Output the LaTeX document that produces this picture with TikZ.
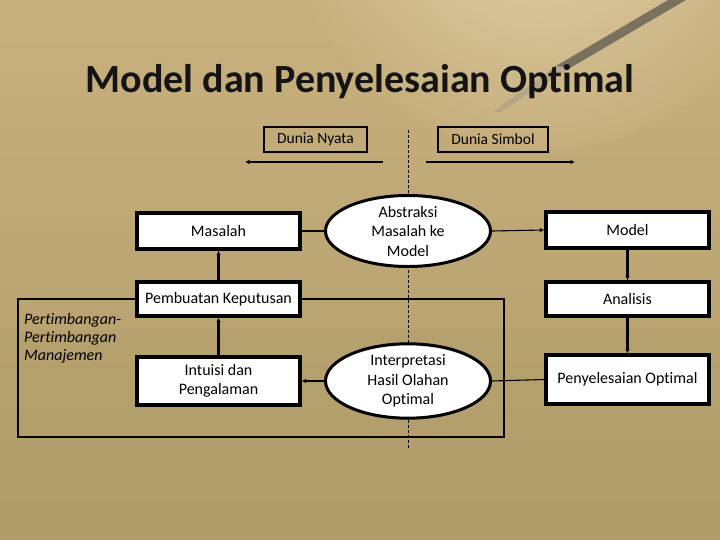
\documentclass[tikz,border=0pt]{standalone}
\usepackage{fontspec}
\setmainfont{Carlito}[Ligatures=NoCommon]
\usetikzlibrary{shapes.geometric,arrows.meta,shadings}
\definecolor{bgbot}{RGB}{176,157,106}
\definecolor{bgtop}{RGB}{200,176,126}
\definecolor{paper}{RGB}{236,222,186}
\begin{document}
\begin{tikzpicture}[x=1pt,y=-1pt,
  box/.style={draw=black,line width=3.2pt,fill=white,minimum width=163pt,inner sep=2pt,align=center,font=\fontsize{16}{19.5}\selectfont},
  oval/.style={ellipse,draw=black,line width=3pt,fill=white,minimum width=165pt,inner sep=0pt,align=center,font=\fontsize{16}{19.5}\selectfont},
  lbl/.style={draw=black,line width=1.1pt,inner sep=0pt,font=\fontsize{15.5}{18}\selectfont},
  thin/.style={draw=black,line width=1.1pt},
  vert/.style={draw=black,line width=2.2pt},
  tip/.style={-{Latex[length=4.5pt,width=4.5pt]}}]
\useasboundingbox (0,0) rectangle (720,540);
\shade[top color=bgtop,bottom color=bgbot] (0,0) rectangle (720,540);
\shade[inner color=paper,outer color=bgtop,opacity=0.75] (540,-110) circle (260pt);
\fill[bgbot,opacity=0.35] (0,330) rectangle (720,540);
% pen
\fill[black!75,opacity=0.6] (668,0) -- (686,0) -- (570,68) -- (556,66) -- cycle;
\fill[black!45,opacity=0.35] (556,66) -- (570,68) -- (500,112) -- (493,112) -- cycle;
% title
\node[text=black!92,font=\fontsize{40}{46}\selectfont\bfseries] (title) at (360,82) {Model dan Penyelesaian Optimal};
% labels
\node[lbl,minimum width=103pt,minimum height=25pt] (dn) at (315.5,139.5) {Dunia Nyata};
\node[lbl,minimum width=110pt,minimum height=25pt] (ds) at (493,139.5) {Dunia Simbol};
\coordinate (la) at (383,162); \coordinate (lb) at (245,162);
\coordinate (ra) at (426,162); \coordinate (rb) at (575,162);
\draw[line width=2pt,tip] (la) -- (lb);
\draw[line width=2pt,tip] (ra) -- (rb);
\coordinate (dtop) at (408,130); \coordinate (dbot) at (408,448);
\draw[black,line width=1pt,dash pattern=on 3pt off 2pt] (dtop) -- (dbot);
% nodes
\node[box,minimum height=36pt] (mas) at (218.5,231) {Masalah};
\node[box,minimum height=34pt] (pk) at (218.5,299) {Pembuatan Keputusan};
\node[box,minimum height=48pt] (int) at (218.5,381) {Intuisi dan\\Pengalaman};
\node[box,minimum height=36pt] (mod) at (627.5,230) {Model};
\node[box,minimum height=34pt] (ana) at (627.5,299) {Analisis};
\node[box,minimum height=49pt] (pen) at (627.5,379.5) {Penyelesaian Optimal};
\node[oval,minimum height=64pt] (abs) at (408,231) {Abstraksi\\Masalah ke\\Model};
\node[oval,minimum height=60pt] (itp) at (408,381) {Interpretasi\\Hasil Olahan\\Optimal};
% italic text
\node[anchor=north west,align=left,inner sep=0pt,font=\fontsize{16}{18}\selectfont\itshape] (pert) at (24,313) {Pertimbangan-\\Pertimbangan\\Manajemen};
% connectors
\draw[thin] (mas.east) -- (abs.west);
\draw[thin,tip] (abs.east) -- (mod.west);
\draw[vert,tip] (mod.south) -- (ana.north);
\draw[vert,tip] (ana.south) -- (pen.north);
\draw[thin] (pen.west) -- (itp.east);
\draw[thin,tip] (itp.west) -- (int.east);
\draw[vert,tip] (pk.north) -- (mas.south);
\draw[vert,tip] (int.north) -- (pk.south);
\coordinate (c1) at (504,299); \coordinate (c2) at (504,437);
\coordinate (c3) at (18,437); \coordinate (c4) at (18,299);
\draw[thin] (pk.east) -- (c1) -- (c2) -- (c3) -- (c4) -- (pk.west);
\end{tikzpicture}
\end{document}
